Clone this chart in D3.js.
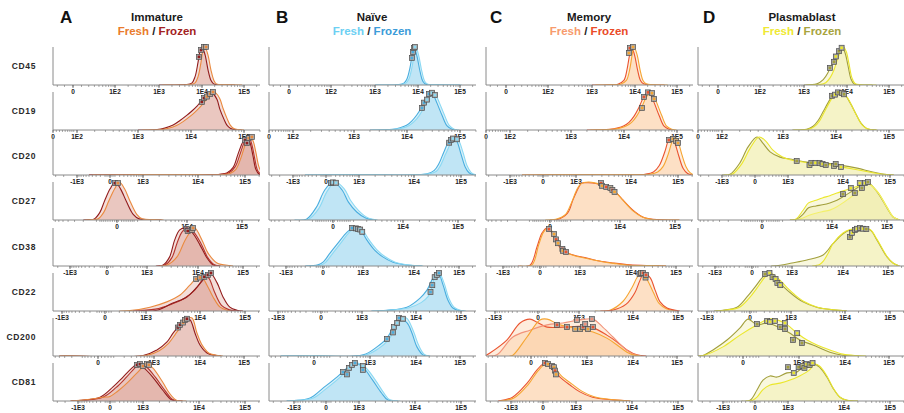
<!DOCTYPE html>
<html>
<head>
<meta charset="utf-8">
<script src="https://cdn.jsdelivr.net/npm/d3@7"></script>
<style>
  body { margin: 0; background: #fff; }
  svg { display: block; }
  text { font-family: Arial, "Liberation Sans", sans-serif; }
</style>
</head>
<body>
<svg id="chart" width="904" height="413"></svg>
<script>
// ---------------- data ----------------
const panelLetters = ["A", "B", "C", "D"];
const populations = ["Immature", "Naïve", "Memory", "Plasmablast"];
const markersCD = ["CD45", "CD19", "CD20", "CD27", "CD38", "CD22", "CD200", "CD81"];

// tick values and labels of each marker row
const tickValues = [
  [0, 1e2, 1e3, 1e4, 1e5],
  [0, 1e2, 1e3, 1e4, 1e5],
  [-1e3, 0, 1e3, 1e4, 1e5],
  [0, 1e4, 1e5],
  [-1e3, 0, 1e3, 1e4, 1e5],
  [-1e3, 0, 1e3, 1e4, 1e5],
  [0, 1e3, 1e4, 1e5],
  [-1e3, 0, 1e3, 1e4, 1e5]
];
const tickLabels = [
  ["0", "1E2", "1E3", "1E4", "1E5"],
  ["0", "1E2", "1E3", "1E4", "1E5"],
  ["-1E3", "0", "1E3", "1E4", "1E5"],
  ["0", "1E4", "1E5"],
  ["-1E3", "0", "1E3", "1E4", "1E5"],
  ["-1E3", "0", "1E3", "1E4", "1E5"],
  ["0", "1E3", "1E4", "1E5"],
  ["-1E3", "0", "1E3", "1E4", "1E5"]
];

// histograms: [series, [[fluorescence, % of max], ...]] ; marks: [series, fluorescence, % of max]
const immature = [
  { curves: [
      ["frozen", [[1000,0],[4000,1],[5800,5],[6900,22],[8100,60],[9000,90],[10000,100],[11800,80],[13900,40],[16400,12],[19000,3],[30000,0.5],[60000,0]]],
      ["fresh",  [[1200,0],[4700,1],[6800,5],[8100,22],[9500,60],[10500,90],[11700,100],[13800,80],[16300,40],[19200,12],[22000,3],[40000,1],[90000,0]]]],
    marks: [["frozen",8500,74],["frozen",9500,92],["fresh",11200,100],["fresh",12500,100]] },
  { curves: [
      ["frozen", [[1000,0],[2300,1],[3200,5],[4600,13],[6200,25],[8400,39],[10400,50],[13000,63],[16000,78],[20000,93],[23000,100],[26000,96],[31000,80],[35000,55],[42000,28],[48000,12],[56000,4],[68000,1],[90000,0]]],
      ["fresh",  [[1200,0],[2600,1],[3600,4],[5200,11],[7100,22],[9600,36],[11900,47],[14800,60],[18200,75],[22800,90],[26000,100],[29600,97],[35000,82],[40000,58],[48000,30],[55000,13],[64000,4],[78000,1],[100000,0]]]],
    marks: [["frozen",16000,74],["frozen",17600,84],["fresh",20000,88],["fresh",23000,95],["fresh",26000,100]] },
  { curves: [
      ["frozen",  [[-500,0],[1000,1],[10000,1],[30000,2],[41000,5],[56000,20],[71000,55],[91000,88],[110000,100],[128000,85],[148000,50],[170000,15],[200000,2],[240000,0]]],
      ["frozen2", [[-500,0],[1000,1],[30000,2],[46000,6],[62000,22],[80000,58],[100000,90],[120000,100],[140000,80],[160000,45],[185000,12],[220000,1]]],
      ["fresh",   [[-400,0],[1000,1],[10000,1],[35000,1],[48000,4],[64000,15],[82000,45],[105000,85],[128000,100],[148000,90],[170000,60],[200000,20],[240000,3],[280000,0]]]],
    marks: [["frozen",100000,92],["frozen",110000,84],["fresh",120000,97],["fresh",140000,100]] },
  { curves: [
      ["frozen", [[-2000,0],[-1500,1],[-1130,3],[-800,20],[-560,50],[-300,82],[-80,100],[150,82],[420,48],[750,15],[1100,3],[2000,1],[3300,0]]],
      ["fresh",  [[-1800,0],[-1300,1],[-900,3],[-600,20],[-360,50],[-100,82],[100,100],[330,82],[600,48],[950,15],[1300,3],[2400,1],[3600,0]]]],
    marks: [["frozen",-90,97],["fresh",40,97]] },
  { curves: [
      ["frozen",  [[1500,0],[2060,2],[2800,24],[3500,68],[4400,95],[5600,100],[7600,89],[11100,55],[15900,21],[21500,3],[30000,0]]],
      ["frozen2", [[1600,0],[2300,3],[3100,22],[3900,60],[4900,90],[6200,100],[8200,90],[11800,58],[16500,22],[22500,4],[32000,0]]],
      ["fresh",   [[1800,0],[2460,2],[3900,24],[5600,68],[7600,95],[8700,100],[12300,68],[16700,34],[26400,8],[51000,1],[60000,0]]]],
    marks: [["frozen",6000,98],["frozen",6300,92],["fresh",7600,95],["fresh",8000,100]] },
  { curves: [
      ["fresh",   [[200,0],[412,1],[1190,10],[2450,24],[4300,42],[6500,68],[8800,87],[11000,89],[14300,68],[19500,37],[28000,10],[40000,2],[60000,0]]],
      ["frozen2", [[500,0],[1500,5],[3000,18],[5000,32],[8000,55],[11000,80],[13500,92],[16000,85],[21000,50],[30000,15],[45000,3],[70000,0]]],
      ["frozen",  [[800,0],[1600,2],[3160,21],[5750,37],[8800,63],[11700,82],[16700,100],[24000,74],[32500,37],[46000,10],[66000,2],[90000,0]]]],
    marks: [["fresh",8500,84],["fresh",10000,88],["frozen",12500,90],["frozen",15000,95],["frozen",17500,100]] },
  { curves: [
      ["frozen", [[-400,0],[-270,0.5],[566,1],[1160,16],[1920,37],[2600,60],[3670,82],[4700,100],[6100,95],[7800,60],[10000,29],[14400,8],[24000,1],[30000,0]]],
      ["fresh",  [[-400,0],[-270,0.5],[650,1],[1300,14],[2100,34],[2900,57],[4000,80],[5200,98],[6700,100],[8500,62],[11000,30],[15800,8],[26000,1],[33000,0]]]],
    marks: [["frozen",3300,75],["frozen",3670,82],["fresh",4300,88],["fresh",4700,95],["frozen",5200,98]] },
  { curves: [
      ["frozen",  [[-1500,0],[-1060,1],[-213,10],[60,37],[279,63],[535,87],[721,97],[1000,89],[1510,63],[2280,29],[3300,3],[5000,0]]],
      ["frozen2", [[-1400,0],[-900,1],[-150,10],[120,35],[360,62],[620,86],[850,98],[1150,90],[1700,62],[2500,28],[3500,3],[5200,0]]],
      ["fresh",   [[-1500,0],[-1060,1],[-400,6],[-150,10],[0,12],[150,25],[381,47],[721,74],[1180,97],[1510,87],[2280,50],[3000,21],[4000,2],[6000,0]]]],
    marks: [["frozen",721,95],["frozen",846,97],["fresh",1000,92],["fresh",1180,97],["fresh",1290,95]] }
];

const naive = [
  { curves: [
      ["frozen", [[1000,0],[3600,1],[4700,5],[5500,15],[6500,45],[7200,75],[8100,100],[9500,75],[11200,35],[13000,10],[15500,2],[30000,0.5],[100000,0]]],
      ["fresh",  [[1100,0],[4000,1],[5200,5],[6100,15],[7200,45],[8000,75],[9000,100],[10500,75],[12400,35],[14400,10],[17200,2],[33000,0.5],[110000,0]]]],
    marks: [["frozen",7200,71],["frozen",7600,87],["fresh",8100,97],["fresh",8500,100]] },
  { curves: [
      ["frozen", [[2000,0],[5400,2],[7400,6],[10000,13],[12400,24],[15400,40],[19200,62],[23800,88],[28400,100],[32000,90],[37000,70],[46000,38],[57000,11],[71000,2],[88000,0]]],
      ["fresh",  [[2200,0],[5900,2],[8100,5],[11000,12],[13600,22],[17000,38],[21000,60],[26000,86],[31000,100],[35000,92],[40700,72],[50600,40],[62700,12],[78000,2],[97000,0]]]],
    marks: [["frozen",19200,58],["frozen",21000,72],["fresh",23800,80],["frozen",26000,95],["fresh",29600,98],["fresh",33700,92]] },
  { curves: [
      ["frozen", [[-500,0],[1000,0.5],[10000,0.5],[19000,3],[27000,12],[34000,30],[43000,60],[56000,90],[68000,100],[82000,88],[100000,55],[122000,22],[148000,6],[180000,1],[220000,0]]],
      ["fresh",  [[-500,0],[1000,0.5],[10000,0.5],[21000,3],[30000,10],[37000,26],[47000,55],[62000,86],[75000,100],[90000,90],[110000,60],[134000,25],[163000,7],[198000,1],[240000,0]]]],
    marks: [["frozen",56000,85],["frozen",61000,92],["fresh",68000,96],["fresh",82000,94]] },
  { curves: [
      ["frozen", [[-2500,0],[-1400,2],[-770,34],[-360,79],[0,100],[400,79],[710,47],[1200,21],[1900,5],[3000,0]]],
      ["fresh",  [[-2300,0],[-1250,2],[-650,30],[-250,76],[100,100],[500,82],[820,52],[1350,24],[2100,6],[3300,0]]]],
    marks: [["frozen",-90,97],["fresh",0,99],["fresh",130,98]] },
  { curves: [
      ["frozen", [[-300,0],[-73,3],[0,10],[96,34],[220,60],[410,89],[580,100],[860,95],[1200,68],[1700,42],[2460,24],[3900,10],[6100,4],[9500,1],[15000,0]]],
      ["fresh",  [[-250,0],[-40,2],[30,9],[130,32],[260,58],[460,88],[650,100],[950,95],[1300,70],[1850,44],[2700,25],[4300,10],[6700,4],[10500,1],[16000,0]]]],
    marks: [["frozen",550,100],["fresh",680,99],["frozen",770,97],["fresh",860,96],["fresh",960,90]] },
  { curves: [
      ["frozen", [[1500,0],[2900,2],[6800,10],[12300,34],[17500,55],[24000,87],[31000,100],[40000,68],[51000,29],[66000,8],[95000,1],[120000,0]]],
      ["fresh",  [[1600,0],[3100,2],[7200,8],[13000,22],[18500,38],[21000,50],[23000,68],[26000,89],[29000,95],[33000,100],[42500,72],[54000,33],[70000,10],[100000,1],[130000,0]]]],
    marks: [["frozen",21000,50],["frozen",23000,68],["fresh",26000,89],["fresh",29000,95],["frozen",32500,100]] },
  { curves: [
      ["frozen", [[-300,0],[-23,1],[700,3],[1420,24],[2340,47],[3160,74],[4300,100],[6400,87],[8200,60],[10500,24],[14400,3],[20000,0]]],
      ["fresh",  [[-300,0],[-23,1],[750,2],[1550,20],[2550,43],[3450,70],[4700,97],[6200,100],[8800,65],[11500,28],[15500,4],[21000,0]]]],
    marks: [["frozen",2340,45],["frozen",3160,62],["fresh",3300,76],["fresh",3900,87],["frozen",4300,100],["fresh",5200,98]] },
  { curves: [
      ["frozen", [[-1500,0],[-1060,1],[-365,8],[-62,34],[229,63],[503,87],[802,100],[1180,89],[1780,55],[2570,21],[3300,3],[5000,0]]],
      ["fresh",  [[-1400,0],[-950,1],[-300,7],[-20,30],[280,60],[560,86],[880,100],[1280,90],[1950,57],[2800,22],[3600,3],[5500,0]]]],
    marks: [["frozen",381,76],["frozen",503,70],["fresh",570,87],["fresh",680,95],["frozen",802,100],["fresh",1180,92],["frozen",1180,82]] }
];

const memory = [
  { curves: [
      ["frozen", [[1000,0],[2500,0.5],[4000,2],[5500,12],[6500,40],[7500,80],[8300,100],[9700,80],[11500,40],[13500,12],[16000,3],[25000,0.5],[50000,0]]],
      ["fresh",  [[1200,0],[2900,0.5],[4600,2],[6300,12],[7500,40],[8600,80],[9500,100],[11200,80],[13200,40],[15500,12],[18400,3],[29000,0.5],[60000,0]]]],
    marks: [["fresh",7200,84],["frozen",7600,97],["fresh",9000,100]] },
  { curves: [
      ["frozen", [[2000,0],[5400,2],[7400,5],[10000,11],[12400,20],[15400,36],[19200,60],[23800,88],[28400,100],[32000,92],[37000,72],[46000,38],[57000,10],[71000,2],[88000,0]]],
      ["fresh",  [[2300,0],[6000,2],[8300,5],[11200,11],[13900,20],[17200,36],[21500,60],[26700,88],[31800,100],[35800,92],[41400,72],[51500,38],[63800,10],[79500,2],[98000,0]]]],
    marks: [["fresh",22000,58],["frozen",23800,87],["frozen",28400,99],["fresh",33700,97],["fresh",37000,82]] },
  { curves: [
      ["frozen", [[-500,0],[1000,0.5],[10000,0.5],[20000,2],[30000,8],[40000,25],[52000,60],[63000,92],[72000,100],[85000,85],[104000,50],[128000,18],[160000,4],[200000,0]]],
      ["fresh",  [[-500,0],[1000,0.5],[10000,0.5],[25000,2],[37000,8],[48000,22],[62000,55],[75000,88],[86000,100],[100000,88],[120000,55],[148000,22],[180000,6],[220000,0]]]],
    marks: [["frozen",64000,92],["fresh",78000,95],["fresh",91000,90],["fresh",100000,84]] },
  { curves: [
      ["frozen", [[0,0],[313,1],[823,18],[1150,53],[1580,87],[1820,97],[2500,98],[3500,96],[4400,92],[5500,84],[7200,76],[8700,70],[11300,53],[17200,26],[26000,8],[40000,2],[120000,0]]],
      ["fresh",  [[-200,0],[250,2],[700,14],[1050,45],[1450,82],[1750,95],[2500,100],[3500,97],[4400,93],[5500,86],[7200,78],[8700,70],[11300,52],[17200,24],[26000,7],[40000,1],[120000,0]]]],
    marks: [["frozen",4400,97],["fresh",4600,90],["frozen",5500,87],["fresh",6600,84],["frozen",7200,79],["fresh",7900,74]] },
  { curves: [
      ["frozen", [[-400,0],[-151,2],[-44,50],[27,87],[96,100],[172,87],[258,60],[383,40],[700,29],[1370,21],[2460,13],[4400,8],[9500,3],[31000,1],[60000,0]]],
      ["fresh",  [[-350,0],[-120,3],[-20,55],[50,90],[120,100],[200,84],[290,58],[420,38],[750,27],[1450,19],[2600,12],[4600,7],[9500,2],[31000,1],[60000,0]]]],
    marks: [["frozen",124,97],["fresh",205,84],["frozen",240,70],["fresh",278,60],["frozen",370,45],["fresh",383,40],["frozen",460,37]] },
  { curves: [
      ["fresh",  [[2000,0],[3750,2],[6500,25],[9600,62],[12300,88],[15000,100],[20000,85],[28000,50],[38000,20],[55000,6],[100000,0]]],
      ["frozen", [[2500,0],[4200,2],[7500,18],[11000,48],[14000,78],[17500,100],[24000,88],[31000,55],[40000,24],[57000,8],[110000,0]]]],
    marks: [["frozen",14000,97],["fresh",15000,100],["frozen",16700,100],["fresh",19000,88],["frozen",19500,95]] },
  { curves: [
      ["frozen",  [[-600,0],[-456,8],[-177,42],[-66,87],[-6,97],[35,89],[103,76],[278,76],[700,78],[1350,74],[2700,55],[4500,37],[7400,16],[12300,3],[20000,0]]],
      ["frozen2", [[-500,0],[-313,3],[-119,50],[-6,68],[103,82],[278,87],[700,95],[1350,97],[2200,76],[3670,50],[6000,24],[10000,5],[15000,0]]],
      ["fresh",   [[-150,0],[-119,2],[-23,50],[53,95],[103,97],[232,82],[700,71],[1350,63],[2700,47],[4500,29],[7400,10],[10000,3],[15000,0]]]],
    marks: [["frozen",198,82],["frozen",349,76],["fresh",539,71],["frozen2",595,95],["fresh",700,71],["frozen",815,76],["frozen2",910,84],["fresh",1050,71],["frozen2",1280,97],["frozen",1350,76]] },
  { curves: [
      ["frozen", [[-2000,0],[-920,10],[-365,47],[-125,82],[40,100],[186,89],[382,63],[721,42],[1180,24],[2000,10],[4600,3],[9200,0]]],
      ["fresh",  [[-1800,0],[-850,8],[-330,44],[-100,80],[60,98],[220,92],[420,66],[790,45],[1280,26],[2150,11],[4800,3],[9500,0]]]],
    marks: [["frozen",40,100],["fresh",101,97],["frozen",186,92],["fresh",229,89],["frozen",255,80],["fresh",279,70]] }
];

const plasmablast = [
  { curves: [
      ["frozen", [[1000,0],[2000,3],[2800,14],[3600,32],[4000,45],[5000,61],[5500,75],[6500,89],[7700,100],[9000,85],[10600,50],[12500,15],[14700,3],[20000,0.5],[40000,0]]],
      ["fresh",  [[1200,0],[2300,1],[3200,6],[4100,20],[5000,40],[6000,68],[7200,90],[8300,100],[9600,88],[11200,55],[13000,20],[15500,4],[22000,0.5],[50000,0]]]],
    marks: [["frozen",4000,45],["frozen",5000,61],["fresh",5500,75],["frozen",6500,89],["fresh",7500,98]] },
  { curves: [
      ["frozen", [[1500,0],[2800,2],[3700,10],[4600,25],[5700,48],[7100,72],[8800,92],[11400,100],[14800,92],[18400,72],[23800,42],[29600,18],[37000,5],[44000,1],[57000,0]]],
      ["fresh",  [[1600,0],[3000,2],[3900,9],[4900,24],[6000,47],[7500,72],[9300,92],[12000,100],[15500,90],[19200,68],[24500,38],[30500,15],[38000,4],[46000,1],[60000,0]]]],
    marks: [["frozen",8400,90],["fresh",9600,93],["frozen",10900,99],["fresh",13000,97],["frozen",14200,94]] },
  { curves: [
      ["frozen", [[-1000,0],[-640,2],[-330,32],[-140,74],[40,100],[160,84],[330,61],[640,47],[1090,42],[2200,34],[4300,32],[8800,26],[20000,18],[43000,8],[86000,1],[120000,0]]],
      ["fresh",  [[-900,0],[-560,2],[-280,30],[-100,70],[80,100],[220,90],[400,66],[720,48],[1100,40],[2200,33],[4300,30],[8800,22],[20000,14],[43000,6],[86000,1],[120000,0]]]],
    marks: [["frozen",1460,37],["fresh",2500,26],["frozen",2700,32],["fresh",3200,32],["frozen",3800,32],["fresh",4300,29],["frozen",4900,26],["fresh",6900,24],["frozen",7400,29],["fresh",9200,21]] },
  { curves: [
      ["frozen", [[1500,0],[2000,1],[2800,15],[3600,32],[5000,37],[6600,40],[9100,45],[12300,52],[15800,61],[21000,72],[28500,84],[43000,100],[66000,74],[100000,32],[129000,8],[170000,0]]],
      ["fresh",  [[1500,0],[2000,2],[2800,25],[3600,45],[5000,52],[6600,58],[9100,64],[12300,71],[15800,76],[21000,82],[28500,88],[43000,98],[66000,76],[100000,34],[129000,9],[170000,0]]],
      ["fresh2", [[2000,0],[2800,5],[3600,12],[5000,18],[6600,22],[9100,26],[12300,35],[15800,45],[21000,58],[28500,72],[43000,96],[66000,75],[100000,33],[129000,8],[170000,0]]]],
    marks: [["frozen",15800,68],["fresh",22000,84],["frozen",26000,71],["fresh",32000,97],["frozen",35000,84],["fresh",40000,97],["frozen",45000,100]] },
  { curves: [
      ["frozen", [[300,0],[520,2],[1000,8],[1970,16],[4100,29],[6300,58],[10000,85],[14300,95],[24000,100],[40000,95],[57000,68],[95000,24],[129000,8],[180000,0]]],
      ["fresh",  [[2500,0],[3500,4],[4100,12],[5200,35],[6300,58],[10000,87],[14300,96],[24000,100],[40000,96],[57000,70],[95000,25],[129000,8],[180000,0]]]],
    marks: [["frozen",14300,76],["fresh",15900,87],["frozen",18500,95],["fresh",20500,98],["frozen",24000,100],["fresh",28000,98],["frozen",33000,97]] },
  { curves: [
      ["frozen", [[-700,0],[-432,2],[-170,10],[-37,37],[64,63],[164,87],[264,100],[466,82],[725,60],[1090,42],[1670,24],[3000,10],[6000,3],[11000,0]]],
      ["fresh",  [[-650,0],[-400,2],[-140,9],[-10,34],[90,60],[190,85],[300,100],[520,84],[800,62],[1150,44],[1750,25],[3100,10],[6200,3],[11000,0]]]],
    marks: [["frozen",210,97],["fresh",292,100],["frozen",356,89],["fresh",428,84],["frozen",475,74],["fresh",560,68]] },
  { curves: [
      ["frozen", [[-600,0],[-433,1],[-249,16],[-102,42],[-17,74],[29,97],[88,82],[177,87],[370,74],[628,60],[1050,42],[2000,29],[4700,10],[9000,2],[15000,0]]],
      ["fresh",  [[-600,0],[-433,1],[-136,24],[-17,55],[88,82],[187,97],[313,95],[539,82],[910,60],[1500,42],[2460,29],[4700,16],[9000,5],[18700,1],[30000,0]]]],
    marks: [["frozen",88,84],["fresh",177,92],["fresh",210,90],["fresh",278,92],["frozen",370,76],["fresh",480,87],["frozen",480,71],["fresh",910,60],["frozen",735,42],["frozen",1160,34]] },
  { curves: [
      ["frozen", [[-300,0],[-104,2],[40,29],[164,55],[330,66],[535,63],[947,74],[1450,76],[1850,87],[2470,89],[3000,97],[3700,89],[5000,63],[6400,34],[8500,10],[11600,2],[20000,0]]],
      ["fresh",  [[-200,0],[-50,2],[40,10],[164,30],[330,42],[643,47],[1090,55],[1640,66],[2470,82],[3000,97],[3700,92],[5000,66],[6400,35],[8500,10],[11600,2],[20000,0]]]],
    marks: [["frozen",1000,89],["fresh",1280,74],["frozen",1570,89],["fresh",1850,92],["frozen",2000,87],["fresh",2190,97],["frozen",2470,95],["fresh",2790,100]] }
];

const columnData = [immature, naive, memory, plasmablast];

// ---------------- layout & styles ----------------
const panelLeft = [53, 269, 486, 698];
const panelW = 207;
const panelH = 38;
const rowBase = [85, 130, 175, 220, 266, 311, 356, 401];

// biexponential-like display: asinh(v / cofactor), pinned at decade positions (px inside panel)
const axisLayout = [
  { cofactor: 21,   pins: [[0, 20], [1e2, 62], [1e3, 106], [1e4, 149], [1e5, 191]] },
  { cofactor: 50,   pins: [[0, 0], [1e2, 24], [1e3, 85], [1e4, 138], [1e5, 191]] },
  { cofactor: 400,  pins: [[-1e3, 24], [0, 57], [1e3, 90], [1e4, 145], [1e5, 192]] },
  { cofactor: 1000, pins: [[0, 64], [1e4, 134], [1e5, 189]] },
  { cofactor: 260,  pins: [[-1e3, 17], [0, 54], [1e3, 94], [1e4, 145], [1e5, 190]] },
  { cofactor: 250,  pins: [[-1e3, 9], [0, 52], [1e3, 93], [1e4, 147], [1e5, 192]] },
  { cofactor: 110,  pins: [[0, 45], [1e3, 101], [1e4, 147], [1e5, 191]] },
  { cofactor: 400,  pins: [[-1e3, 25], [0, 57], [1e3, 90], [1e4, 146], [1e5, 192]] }
];

const colStyle = [
  { title: 157, letter: 60,  fill: "#d89384",
    line: { fresh: "#ea8a3f", frozen: "#921c1c", frozen2: "#b5352d" },
    head: { fresh: "#e97b2c", frozen: "#a3221e" } },
  { title: 372, letter: 276, fill: "#84cdec",
    line: { fresh: "#8bd9f3", frozen: "#4aaedf" },
    head: { fresh: "#6dd0f3", frozen: "#3c9cd9" } },
  { title: 589, letter: 490, fill: "#fcc28e",
    line: { fresh: "#f6a532", frozen: "#ea5430", frozen2: "#f2937a" },
    head: { fresh: "#f79b6d", frozen: "#ea4b29" } },
  { title: 802, letter: 703, fill: "#ebe992",
    line: { fresh: "#ebe72c", frozen: "#a29f3c", fresh2: "#f3f06a" },
    head: { fresh: "#efe934", frozen: "#a8a43e" } }
];

// ---------------- drawing ----------------
const svg = d3.select("#chart");
const defs = svg.append("defs");

function makeX(r) {
  const ax = axisLayout[r];
  const t = v => Math.asinh(v / ax.cofactor);
  const lin = d3.scaleLinear()
    .domain(ax.pins.map(p => t(p[0])))
    .range(ax.pins.map(p => p[1]));
  return v => lin(t(v));
}
const y = d3.scaleLinear().domain([0, 100]).range([panelH, 0]);

// column headers
populations.forEach((name, c) => {
  const st = colStyle[c];
  svg.append("text").attr("x", st.letter).attr("y", 23)
    .attr("font-size", 17).attr("font-weight", "bold").attr("fill", "#111")
    .text(panelLetters[c]);
  svg.append("text").attr("x", st.title).attr("y", 21)
    .attr("text-anchor", "middle").attr("font-size", 11.5).attr("font-weight", "bold").attr("fill", "#1a1a1a")
    .text(name);
  const sub = svg.append("text").attr("x", st.title).attr("y", 35)
    .attr("text-anchor", "middle").attr("font-size", 11.5).attr("font-weight", "bold");
  sub.append("tspan").attr("fill", st.head.fresh).text("Fresh");
  sub.append("tspan").attr("fill", "#222").text(" / ");
  sub.append("tspan").attr("fill", st.head.frozen).text("Frozen");
});

// row labels
markersCD.forEach((m, r) => {
  svg.append("text").attr("x", 36).attr("y", rowBase[r] - 16)
    .attr("text-anchor", "end").attr("font-size", 8.5).attr("font-weight", "bold")
    .attr("letter-spacing", 0.6).attr("fill", "#2a2a2a").text(m);
});

// minor tick candidates
const tickCandidates = [0];
for (let k = 1; k <= 5; k++) for (let m = 1; m <= 9; m++) tickCandidates.push(m * 10 ** k, -m * 10 ** k);

markersCD.forEach((m, r) => {
  const x = makeX(r);
  columnData.forEach((col, c) => {
    const st = colStyle[c];
    const panel = col[r];
    const g = svg.append("g").attr("transform", `translate(${panelLeft[c]},${rowBase[r] - panelH})`);
    const clipId = `clip-${r}-${c}`;
    defs.append("clipPath").attr("id", clipId)
      .append("rect").attr("x", 0).attr("y", -4).attr("width", panelW).attr("height", panelH + 4);

    const curve = d3.curveCatmullRom.alpha(0.5);
    const area = d3.area().curve(curve).x(d => x(d[0])).y0(panelH).y1(d => y(d[1]));
    const line = d3.line().curve(curve).x(d => x(d[0])).y(d => y(d[1]));

    const plot = g.append("g").attr("clip-path", `url(#${clipId})`);
    plot.selectAll("path.fill").data(panel.curves).join("path")
      .attr("class", "fill").attr("d", d => area(d[1]))
      .attr("fill", st.fill).attr("fill-opacity", 0.3);
    plot.selectAll("path.ln").data(panel.curves).join("path")
      .attr("class", "ln").attr("d", d => line(d[1]))
      .attr("fill", "none").attr("stroke", d => st.line[d[0]]).attr("stroke-width", 1.1);

    // axes
    g.append("line").attr("x1", 0).attr("x2", 0).attr("y1", 0).attr("y2", panelH)
      .attr("stroke", "#8a8a8a").attr("stroke-width", 1);
    g.append("line").attr("x1", 0).attr("x2", panelW).attr("y1", panelH).attr("y2", panelH)
      .attr("stroke", "#8a8a8a").attr("stroke-width", 1);

    const minor = tickCandidates.map(v => x(v)).filter(p => p >= 0 && p <= panelW).sort((a, b) => a - b);
    const kept = [];
    minor.forEach(p => { if (!kept.length || p - kept[kept.length - 1] >= 1.8) kept.push(p); });
    g.selectAll("line.minor").data(kept).join("line").attr("class", "minor")
      .attr("x1", d => d).attr("x2", d => d).attr("y1", panelH).attr("y2", panelH + 2)
      .attr("stroke", "#6f6f6f").attr("stroke-width", 0.6);
    g.selectAll("line.major").data(tickValues[r]).join("line").attr("class", "major")
      .attr("x1", d => x(d)).attr("x2", d => x(d)).attr("y1", panelH).attr("y2", panelH + 3)
      .attr("stroke", "#555").attr("stroke-width", 0.8);
    g.selectAll("text.tick").data(tickValues[r]).join("text").attr("class", "tick")
      .attr("x", d => x(d)).attr("y", panelH + 8.5)
      .attr("text-anchor", "middle").attr("font-size", 6.5).attr("font-weight", "bold").attr("fill", "#222")
      .text((d, i) => tickLabels[r][i]);

    // median markers
    const mk = g.selectAll("g.mk").data(panel.marks).join("g").attr("class", "mk")
      .attr("transform", d => `translate(${x(d[1])},${y(d[2])})`);
    mk.append("rect").attr("x", -2.5).attr("y", -2.5).attr("width", 5).attr("height", 5)
      .attr("fill", "#a9a9a9").attr("stroke", "#4d4d4d").attr("stroke-width", 0.7);
    mk.append("rect").attr("x", -1.3).attr("y", -1.3).attr("width", 2.6).attr("height", 2.6)
      .attr("fill", d => st.line[d[0]]);
  });
});
</script>
</body>
</html>
